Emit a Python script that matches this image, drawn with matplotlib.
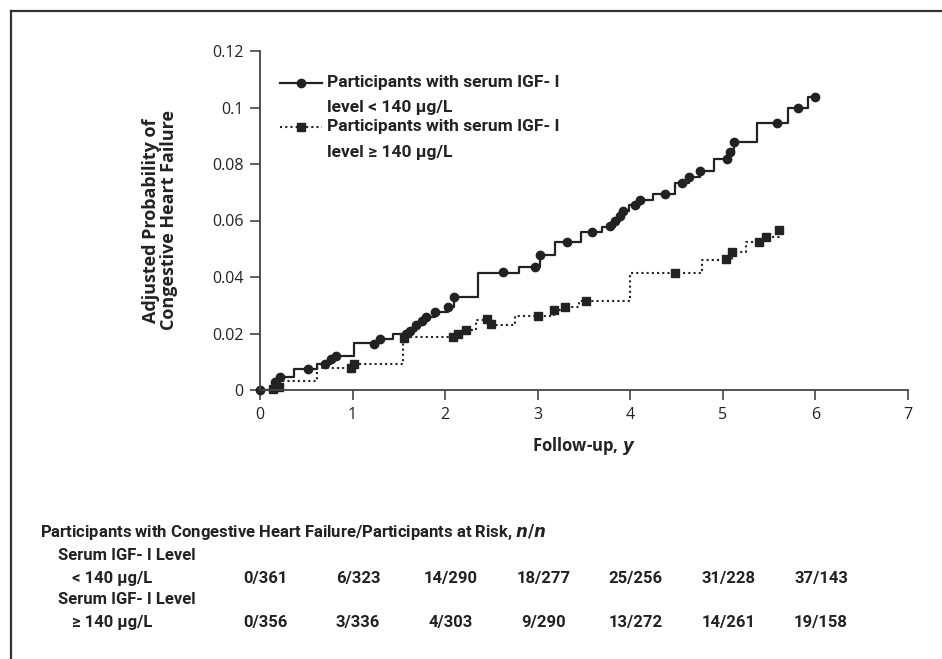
import matplotlib
matplotlib.use("Agg")
import matplotlib.pyplot as plt
from matplotlib.lines import Line2D
from matplotlib.ticker import FuncFormatter
from matplotlib import transforms

# ---- data ----
# step vertices (time in years, adjusted probability), steps-post
low_t = [0, 0.16, 0.22, 0.37, 0.62, 0.77, 0.82, 1.02, 1.30, 1.44, 1.62, 1.69, 1.75, 1.79,
         1.89, 2.03, 2.10, 2.35, 2.80, 3.02, 3.19, 3.47, 3.69, 3.84, 3.89, 3.92, 3.99, 4.10,
         4.25, 4.48, 4.63, 4.75, 4.90, 5.08, 5.12, 5.37, 5.70, 5.92, 6.00]
low_p = [0, 0.0028, 0.0046, 0.0074, 0.0092, 0.011, 0.012, 0.0166, 0.018, 0.0198, 0.021, 0.023,
         0.0244, 0.026, 0.0276, 0.0294, 0.033, 0.0415, 0.0435, 0.0478, 0.0524, 0.056, 0.0577,
         0.060, 0.0616, 0.0634, 0.0655, 0.0672, 0.0694, 0.0733, 0.0754, 0.0775, 0.0818, 0.0843,
         0.0878, 0.0945, 0.0998, 0.1037, 0.1037]
low_mark_t = [0, 0.16, 0.22, 0.52, 0.70, 0.77, 0.82, 1.23, 1.30, 1.58, 1.62, 1.69, 1.75, 1.79,
              1.89, 2.03, 2.10, 2.62, 2.97, 3.02, 3.32, 3.59, 3.78, 3.84, 3.89, 3.92, 4.05, 4.10,
              4.38, 4.56, 4.63, 4.75, 5.04, 5.08, 5.12, 5.59, 5.81, 6.00]
low_mark_p = [0, 0.0028, 0.0046, 0.0074, 0.0092, 0.011, 0.012, 0.0163, 0.018, 0.0198, 0.021,
              0.023, 0.0244, 0.026, 0.0276, 0.0294, 0.033, 0.0418, 0.0435, 0.0478, 0.0524, 0.056,
              0.058, 0.060, 0.0616, 0.0634, 0.0655, 0.0672, 0.0694, 0.0733, 0.0754, 0.0775,
              0.0818, 0.0843, 0.0878, 0.0945, 0.0998, 0.1037]

high_t = [0, 0.14, 0.21, 0.23, 0.62, 1.02, 1.55, 2.14, 2.23, 2.33, 2.45, 2.50, 2.76, 3.18,
          3.29, 3.45, 4.00, 4.77, 5.10, 5.25, 5.47, 5.61]
high_p = [0, 0.0004, 0.001, 0.0032, 0.0077, 0.0091, 0.0188, 0.0198, 0.0212, 0.0248, 0.0252,
          0.023, 0.0262, 0.0283, 0.0294, 0.0315, 0.0414, 0.046, 0.0488, 0.0524, 0.054, 0.0566]
high_mark_t = [0.14, 0.21, 0.98, 1.02, 1.56, 2.08, 2.14, 2.23, 2.45, 2.50, 3.00, 3.18, 3.29,
               3.52, 4.48, 5.03, 5.10, 5.39, 5.47, 5.61]
high_mark_p = [0.0004, 0.001, 0.0077, 0.0091, 0.0185, 0.0188, 0.0198, 0.0212, 0.0252, 0.0234,
               0.0262, 0.0283, 0.0294, 0.0315, 0.0414, 0.0464, 0.0488, 0.0524, 0.054, 0.0566]

years = [0, 1, 2, 3, 4, 5, 6]
risk_low = ["0/361", "6/323", "14/290", "18/277", "25/256", "31/228", "37/143"]
risk_high = ["0/356", "3/336", "4/303", "9/290", "13/272", "14/261", "19/158"]

ink = "#222222"
axcol = "#444444"
cond = ["Roboto", "DejaVu Sans"]

plt.rcParams["font.family"] = ["Open Sans", "DejaVu Sans"]

fig = plt.figure(figsize=(9.42, 6.59), dpi=100)
ax = fig.add_axes([260 / 942, 1 - 390 / 659, 648 / 942, 339 / 659])

ax.plot(low_t, low_p, drawstyle="steps-post", color=ink, lw=1.6, clip_on=False)
ax.plot(low_mark_t, low_mark_p, "o", color=ink, ms=6, clip_on=False)
ax.plot(high_t, high_p, drawstyle="steps-post", color=ink, lw=1.5, ls=(0, (1, 1.5)),
        clip_on=False)
ax.plot(high_mark_t, high_mark_p, "s", color=ink, ms=5.5, clip_on=False)

ax.set_xlim(0, 7)
ax.set_ylim(0, 0.12)
ax.set_xticks(range(0, 8))
ax.set_yticks([0, 0.02, 0.04, 0.06, 0.08, 0.1, 0.12])
ax.yaxis.set_major_formatter(FuncFormatter(lambda v, p: "%g" % round(v, 2)))
for s in ["top", "right"]:
    ax.spines[s].set_visible(False)
for s in ["left", "bottom"]:
    ax.spines[s].set_color(axcol)
    ax.spines[s].set_linewidth(1.3)
ax.tick_params(direction="out", length=7, width=1.2, color=axcol, labelsize=11.5,
               labelcolor="#222222", pad=5)

ax.set_ylabel("Adjusted Probability of\nCongestive Heart Failure", fontsize=13,
              fontweight="bold", color=ink, labelpad=24, linespacing=1.0)
ax.set_xlabel("Follow-up, $\\boldsymbol{y}$", fontsize=12, fontweight="bold", color=ink,
              labelpad=9)

# legend drawn in axes fraction
lx0, lx1, tx = 0.031, 0.096, 0.103
ax.plot([lx0, lx1], [0.906, 0.906], color=ink, lw=1.6, transform=ax.transAxes)
ax.plot([(lx0 + lx1) / 2], [0.906], "o", color=ink, ms=6, transform=ax.transAxes)
ax.plot([lx0, lx1], [0.776, 0.776], color=ink, lw=1.5, ls=(0, (1, 1.5)),
        transform=ax.transAxes)
ax.plot([(lx0 + lx1) / 2], [0.776], "s", color=ink, ms=5.5, transform=ax.transAxes)
leg_kw = dict(transform=ax.transAxes, fontsize=12.5, fontweight="bold", color=ink,
              va="center", ha="left", family=cond)
ax.text(tx, 0.906, "Participants with serum IGF- I", **leg_kw)
ax.text(tx, 0.832, "level < 140 µg/L", **leg_kw)
ax.text(tx, 0.776, "Participants with serum IGF- I", **leg_kw)
ax.text(tx, 0.702, "level ≥ 140 µg/L", **leg_kw)

# number-at-risk table
tab_kw = dict(fontsize=12, fontweight="bold", color=ink, va="center", family=cond)
fig.text(40 / 942, 1 - 532 / 659,
         "Participants with Congestive Heart Failure/Participants at Risk, $\\boldsymbol{n/n}$",
         ha="left", **tab_kw)
fig.text(58 / 942, 1 - 555 / 659, "Serum IGF- I Level", ha="left", **tab_kw)
fig.text(72 / 942, 1 - 578 / 659, "< 140 µg/L", ha="left", **tab_kw)
fig.text(58 / 942, 1 - 600 / 659, "Serum IGF- I Level", ha="left", **tab_kw)
fig.text(72 / 942, 1 - 623 / 659, "≥ 140 µg/L", ha="left", **tab_kw)
trans = transforms.blended_transform_factory(ax.transData, fig.transFigure)
for yr, a, b in zip(years, risk_low, risk_high):
    ax.text(yr + 0.06, 1 - 578 / 659, a, transform=trans, ha="center", clip_on=False, **tab_kw)
    ax.text(yr + 0.06, 1 - 623 / 659, b, transform=trans, ha="center", clip_on=False, **tab_kw)

# frame around the figure (top and left edges visible)
fig.add_artist(Line2D([11 / 942, 1], [1 - 11 / 659, 1 - 11 / 659], color="#333333", lw=1.6,
                      transform=fig.transFigure))
fig.add_artist(Line2D([11 / 942, 11 / 942], [0, 1 - 11 / 659], color="#333333", lw=1.6,
                      transform=fig.transFigure))

fig.savefig("out.png", dpi=100, facecolor="white")
